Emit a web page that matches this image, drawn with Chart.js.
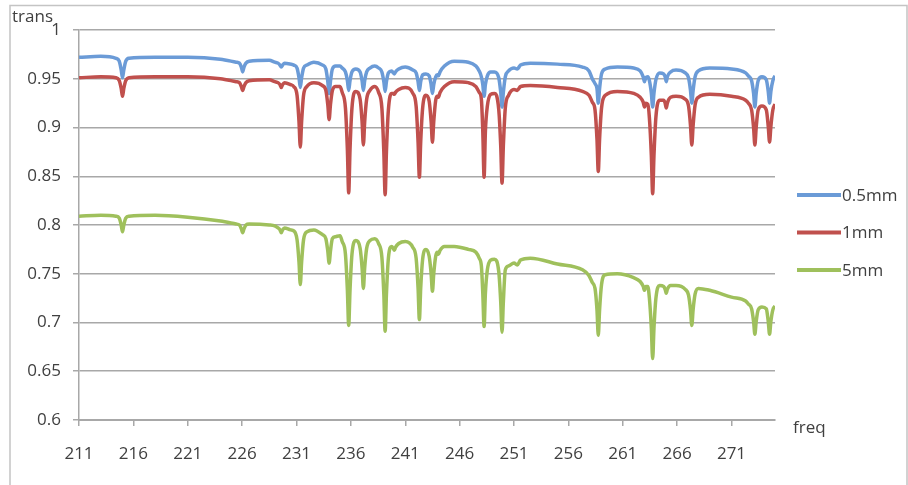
<!DOCTYPE html>
<html lang="en">
<head>
    <meta charset="UTF-8">
    <title>trans vs freq</title>
    <script src="https://cdn.jsdelivr.net/npm/chart.js"></script>
    <style>
        html, body { margin: 0; padding: 0; background: #fff; }
        #wrap { width: 908px; height: 485px; }
    </style>
</head>
<body>
    <div id="wrap"><canvas id="transChart" width="908" height="485"></canvas></div>
    <script>
        // Data
        const freq = [
            211.0, 213.0, 214.4, 214.7, 214.88, 215.0, 215.12, 215.3, 215.6, 218.0,
            221.0, 224.0, 225.45, 225.75, 225.93, 226.05, 226.17, 226.35, 226.65, 228.5,
            229.0, 229.3, 229.48, 229.6, 229.72, 229.9, 230.45, 230.75, 231.05, 231.23,
            231.35, 231.47, 231.65, 231.95, 232.6, 233.4, 233.7, 233.88, 234.0, 234.12,
            234.3, 234.6, 235.0, 235.2, 235.5, 235.68, 235.8, 235.92, 236.1, 236.45,
            236.85, 237.03, 237.15, 237.27, 237.45, 237.75, 238.2, 238.55, 238.85, 239.03,
            239.15, 239.27, 239.45, 239.75, 239.9, 240.0, 240.1, 240.4, 241.0, 241.7,
            242.0, 242.18, 242.3, 242.42, 242.6, 242.9, 243.2, 243.38, 243.5, 243.62,
            243.8, 243.95, 244.05, 244.2, 244.6, 245.5, 246.8, 247.5, 247.8, 248.0,
            248.13, 248.25, 248.37, 248.55, 248.85, 249.2, 249.6, 249.78, 249.9, 250.02,
            250.2, 250.5, 251.0, 251.3, 251.6, 252.5, 255.0, 257.3, 257.9, 258.2,
            258.45, 258.63, 258.75, 258.87, 259.05, 259.4, 260.5, 262.0, 262.6, 262.88,
            263.0, 263.12, 263.3, 263.45, 263.63, 263.75, 263.87, 264.05, 264.4, 264.75,
            264.9, 265.0, 265.1, 265.4, 265.9, 266.75, 267.05, 267.23, 267.35, 267.47,
            267.65, 267.95, 269.0, 271.0, 272.3, 272.55, 272.85, 273.03, 273.15, 273.27,
            273.45, 273.8, 274.2, 274.38, 274.5, 274.62, 274.8, 275.0
        ];
        const trans05 = [
            .972, .973, .971, .968, .959, .951, .959, .968, .971, .972,
            .972, .970, .967, .966, .962, .957, .962, .966, .968, .969,
            .967, .966, .964, .962, .964, .966, .965, .964, .961, .951,
            .941, .951, .961, .964, .967, .964, .960, .947, .935, .947,
            .960, .963, .963, .961, .957, .948, .938, .948, .957, .960,
            .957, .948, .938, .948, .957, .961, .963, .961, .957, .947,
            .937, .947, .956, .958, .956, .955, .957, .960, .962, .959,
            .956, .947, .938, .947, .954, .955, .953, .944, .935, .944,
            .952, .954, .953, .957, .963, .968, .967, .963, .958, .952,
            .944, .932, .944, .953, .957, .957, .951, .936, .921, .936,
            .952, .958, .961, .960, .964, .966, .965, .962, .958, .950,
            .945, .940, .925, .940, .955, .960, .962, .961, .958, .952,
            .947, .951, .952, .948, .935, .921, .935, .949, .956, .955,
            .952, .947, .952, .957, .959, .956, .951, .938, .925, .938,
            .952, .958, .961, .960, .956, .953, .948, .935, .921, .935,
            .948, .952, .949, .937, .925, .937, .948, .953
        ];
        const trans1 = [
            .951, .952, .951, .948, .940, .932, .940, .948, .951, .952,
            .952, .950, .947, .946, .942, .938, .942, .946, .948, .949,
            .947, .946, .944, .941, .944, .946, .944, .942, .933, .906,
            .880, .906, .933, .942, .946, .943, .938, .923, .908, .923,
            .938, .942, .942, .936, .920, .877, .833, .877, .920, .937,
            .929, .906, .882, .906, .929, .938, .942, .936, .920, .875,
            .831, .875, .918, .935, .935, .934, .936, .939, .941, .935,
            .922, .885, .849, .885, .920, .933, .927, .906, .885, .906,
            .928, .932, .931, .936, .942, .947, .946, .942, .936, .929,
            .896, .849, .896, .922, .934, .935, .918, .881, .843, .881,
            .920, .933, .939, .938, .942, .943, .941, .937, .933, .926,
            .918, .888, .855, .888, .920, .933, .937, .935, .931, .926,
            .921, .925, .924, .910, .871, .832, .871, .911, .928, .928,
            .925, .920, .925, .931, .932, .929, .922, .902, .882, .902,
            .923, .931, .934, .932, .928, .925, .918, .900, .882, .900,
            .918, .922, .918, .901, .885, .901, .918, .924
        ];
        const trans5 = [
            .809, .810, .809, .807, .800, .793, .800, .807, .809, .810,
            .808, .804, .801, .800, .796, .792, .796, .800, .801, .800,
            .799, .797, .795, .792, .795, .797, .795, .794, .785, .762,
            .739, .762, .785, .793, .795, .790, .786, .773, .761, .773,
            .786, .788, .789, .783, .770, .733, .697, .733, .770, .784,
            .776, .756, .735, .756, .776, .784, .786, .781, .767, .729,
            .691, .729, .766, .778, .776, .774, .777, .781, .783, .777,
            .766, .735, .703, .735, .765, .775, .768, .750, .732, .750,
            .768, .772, .770, .774, .778, .778, .775, .772, .766, .758,
            .730, .696, .730, .754, .764, .765, .752, .721, .690, .721,
            .754, .758, .761, .759, .764, .766, .760, .754, .748, .741,
            .735, .713, .687, .713, .739, .749, .750, .746, .742, .737,
            .733, .737, .737, .725, .694, .663, .694, .725, .738, .737,
            .734, .730, .734, .738, .738, .734, .728, .713, .697, .713,
            .729, .735, .733, .726, .722, .719, .714, .701, .688, .701,
            .713, .716, .714, .701, .688, .701, .713, .717
        ];
        const seriesNames = ['0.5mm', '1mm', '5mm'];
        const seriesColors = ['#6b9bd7', '#c0504d', '#9fc05c'];
        const xTicks = [211, 216, 221, 226, 231, 236, 241, 246, 251, 256, 261, 266, 271];
        const yTicks = [0.6, 0.65, 0.7, 0.75, 0.8, 0.85, 0.9, 0.95, 1];
        const yLabels = ['0.6', '0.65', '0.7', '0.75', '0.8', '0.85', '0.9', '0.95', '1'];

        const FONT = '"Open Sans", "DejaVu Sans", sans-serif';
        const TEXT = '#404040';
        const GRID = '#a8a8a8';

        // frame, axis names and legend (Excel-like placement)
        const extras = {
            id: 'extras',
            afterDraw(chart) {
                const c = chart.ctx;
                const area = chart.chartArea;
                c.save();
                c.strokeStyle = '#c4c4c4';
                c.lineWidth = 1.5;
                c.beginPath();
                c.moveTo(10, 485);
                c.lineTo(10, 5.5);
                c.lineTo(907, 5.5);
                c.lineTo(907, 485);
                c.stroke();

                c.fillStyle = TEXT;
                c.font = '17px ' + FONT;
                c.textBaseline = 'middle';
                c.textAlign = 'left';
                c.fillText('trans', 12, 17);
                c.fillText('freq', area.right + 18, 428);

                // legend
                seriesNames.forEach(function(name, i) {
                    const y = 195 + i * 37.5;
                    c.strokeStyle = seriesColors[i];
                    c.lineWidth = 4;
                    c.beginPath();
                    c.moveTo(797, y);
                    c.lineTo(841, y);
                    c.stroke();
                    c.fillText(name, 842, y + 1);
                });
                c.restore();
            }
        };

        document.addEventListener('DOMContentLoaded', function() {
            const ctx = document.getElementById('transChart');
            const lists = [trans05, trans1, trans5];

            new Chart(ctx, {
                type: 'line',
                data: {
                    datasets: lists.map(function(vals, i) {
                        return {
                            label: seriesNames[i],
                            data: freq.map(function(f, k) { return { x: f, y: vals[k] }; }),
                            borderColor: seriesColors[i],
                            backgroundColor: seriesColors[i],
                            borderWidth: 3.5,
                            pointRadius: 0,
                            cubicInterpolationMode: 'monotone',
                            order: 3 - i
                        };
                    })
                },
                options: {
                    responsive: false,
                    animation: false,
                    events: [],
                    layout: { padding: { left: 0, right: 133, top: 30, bottom: 0 } },
                    plugins: {
                        legend: { display: false },
                        tooltip: { enabled: false }
                    },
                    scales: {
                        x: {
                            type: 'linear',
                            min: 211,
                            max: 275,
                            afterBuildTicks: function(scale) {
                                scale.ticks = xTicks.map(function(v) { return { value: v }; });
                            },
                            afterFit: function(scale) { scale.height = 65; },
                            grid: {
                                drawOnChartArea: false,
                                drawTicks: true,
                                tickLength: 6,
                                color: GRID,
                                lineWidth: 1.5
                            },
                            border: { color: GRID, width: 2 },
                            ticks: {
                                autoSkip: false,
                                maxRotation: 0,
                                padding: 18,
                                color: TEXT,
                                font: { family: FONT, size: 17 },
                                callback: function(v) { return String(v); }
                            }
                        },
                        y: {
                            min: 0.6,
                            max: 1,
                            afterBuildTicks: function(scale) {
                                scale.ticks = yTicks.map(function(v) { return { value: v }; });
                            },
                            afterFit: function(scale) { scale.width = 79; },
                            grid: {
                                color: GRID,
                                lineWidth: 1.5,
                                drawTicks: true,
                                tickLength: 6
                            },
                            border: { color: GRID, width: 1.5 },
                            ticks: {
                                padding: 12,
                                color: TEXT,
                                font: { family: FONT, size: 17 },
                                callback: function(v, idx) { return yLabels[idx]; }
                            }
                        }
                    }
                },
                plugins: [extras]
            });
        });
    </script>
</body>
</html>
